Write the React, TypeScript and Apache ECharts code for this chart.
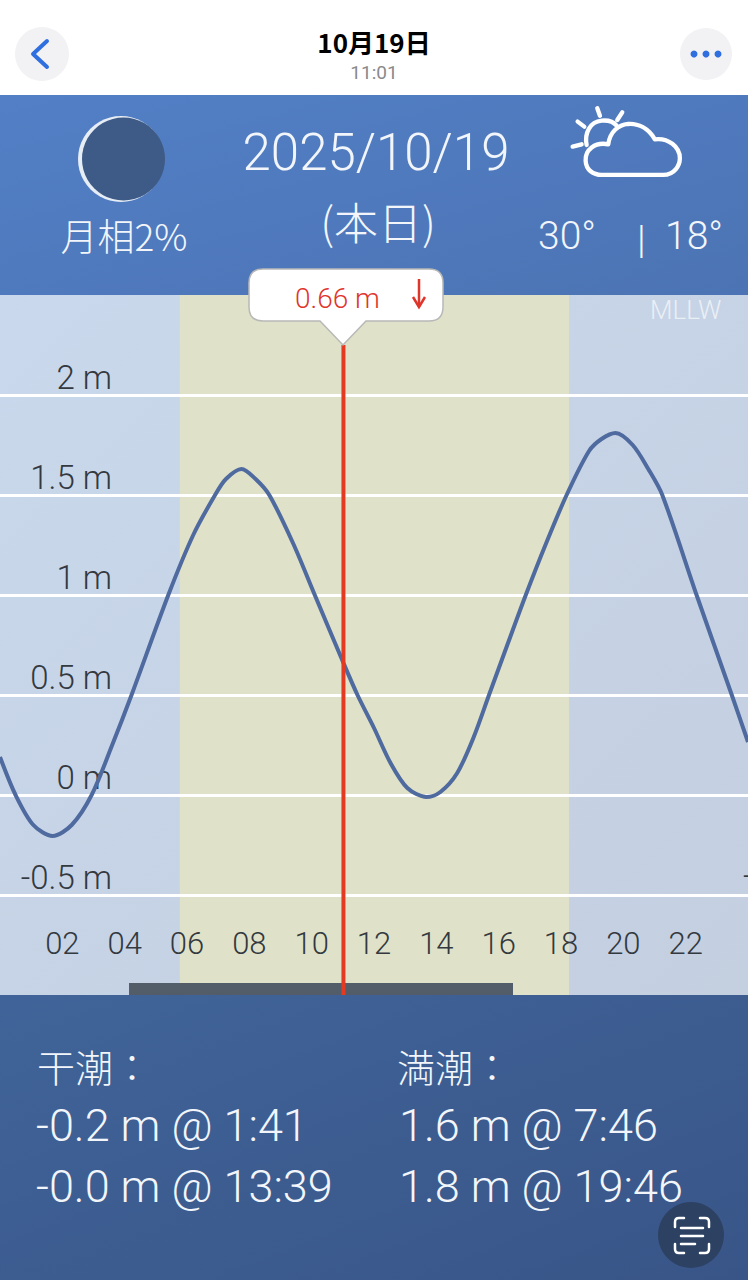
import React, { useEffect, useRef } from "react";
import * as echarts from "echarts";

const hours = [0, 0.5, 1.07, 1.69, 2.3, 2.94, 3.6, 4.22, 5.4, 6.2, 6.9, 7.25, 7.75, 8.2, 8.64, 9.4, 10.1, 11.02, 11.47, 12, 12.53, 13.07, 13.68, 14.13, 14.67, 15.2, 15.69, 16.3, 16.87, 17.5, 18.18, 18.9, 19.3, 19.75, 20.3, 20.8, 21.25, 22.35, 23.48, 24];
const tide = [0.19, 0, -0.15, -0.205, -0.15, 0, 0.25, 0.5, 1, 1.3, 1.5, 1.58, 1.63, 1.58, 1.5, 1.26, 1, 0.66, 0.5, 0.335, 0.16, 0.035, -0.01, 0.015, 0.11, 0.29, 0.5, 0.76, 1, 1.25, 1.5, 1.72, 1.78, 1.81, 1.75, 1.63, 1.5, 1, 0.5, 0.265];
const daylight = [5.77, 18.26];
const darkBar = [4.14, 16.46];
const nowHour = 11.02;
const lowTides = ["-0.2 m @ 1:41", "-0.0 m @ 13:39"];
const highTides = ["1.6 m @ 7:46", "1.8 m @ 19:46"];

const LATIN = "Roboto, 'Noto Sans CJK JP', sans-serif";
const CJK = "'Noto Sans CJK JP', Roboto, sans-serif";
const WHITE = "#f2f6fb";

echarts.graphic.registerShape("bubble", echarts.graphic.extendPath(
  "M263 269 H429 Q443 269 443 283 V307 Q443 321 429 321 H366 L343 345 L320 321 H263 Q249 321 249 307 V283 Q249 269 263 269 Z", {}));
echarts.graphic.registerShape("cloud", echarts.graphic.extendPath(
  "M185 240 H370 C405 240 420 210 420 190 C420 155 385 128 345 133 C325 100 295 85 265 87 C235 90 210 110 205 148 C165 140 135 165 137 197 C138 225 160 240 185 240 Z M140 150 C133 115 150 80 185 77 C205 75 222 82 230 92 M98 155 L125 148 M113 80 L133 95 M172 40 L180 62 M247 52 L232 75", {}));
echarts.graphic.registerShape("scan", echarts.graphic.extendPath(
  "M675 1227 V1222 Q675 1218 679 1218 H684 M700 1218 H705 Q709 1218 709 1222 V1227 M709 1244 V1249 Q709 1253 705 1253 H700 M684 1253 H679 Q675 1253 675 1249 V1244 M681 1228 H703 M681 1236 H703 M681 1244 H695", {}));

function label(text: string, x: number, y: number, size: number, extra: any = {}) {
  const { font, weight, fill, align, z } = extra;
  return {
    type: "text", x, y, z: z ?? 10,
    style: {
      text, fontSize: size, fontFamily: font ?? LATIN, fontWeight: weight ?? 300,
      fill: fill ?? WHITE, align: align ?? "left", verticalAlign: "middle",
    },
  };
}

export default function App() {
  const ref = useRef<HTMLDivElement>(null);
  useEffect(() => {
    document.body.style.margin = "0";
    document.body.style.background = "#fff";
    const chart = echarts.init(ref.current!, undefined, { renderer: "svg" });
    const lg = (a: string, b: string) => new echarts.graphic.LinearGradient(0, 0, 1, 1, [{ offset: 0, color: a }, { offset: 1, color: b }]);
    chart.setOption({
      animation: false,
      backgroundColor: "#ffffff",
      grid: {
        left: 0, right: 0, top: 295, height: 700, show: true, borderWidth: 0,
        backgroundColor: lg("#c9d8ec", "#c4cfe0"),
      },
      xAxis: {
        type: "value", min: 0, max: 24, interval: 2, z: 3,
        axisLine: { show: false }, axisTick: { show: false }, splitLine: { show: false },
        axisLabel: {
          inside: true, margin: 36, showMinLabel: false, showMaxLabel: false,
          color: "#33393f", fontSize: 31, fontFamily: LATIN, fontWeight: 300,
          formatter: (v: number) => String(v).padStart(2, "0"),
        },
      },
      yAxis: {
        type: "value", min: -1, max: 2.5, interval: 0.5, z: 1,
        axisLine: { show: false }, axisTick: { show: false },
        splitLine: { show: true, showMinLine: false, showMaxLine: false, lineStyle: { color: "#ffffff", width: 3 } },
        axisLabel: {
          inside: true, margin: 112, align: "right", verticalAlign: "bottom", padding: [0, 0, 0, 0],
          lineHeight: 36, showMinLabel: false, showMaxLabel: false,
          color: "#33393f", fontSize: 33, fontFamily: LATIN, fontWeight: 300,
          formatter: (v: number) => `${v} m`,
        },
      },
      series: [
        {
          type: "line", data: [], z: 0, silent: true,
          markArea: {
            silent: true, z: 0,
            data: [
              [{ coord: [daylight[0], -1], itemStyle: { color: "#dfe2c8", opacity: 1 } }, { coord: [daylight[1], 2.5] }],
            ],
          },
        },
        {
          type: "line", data: [], z: 2, silent: true,
          markArea: {
            silent: true, z: 2,
            data: [
              [{ coord: [darkBar[0], -1], itemStyle: { color: "#525d69", opacity: 1 } }, { coord: [darkBar[1], -0.94] }],
            ],
          },
        },
        {
          type: "line", data: hours.map((h, i) => [h, tide[i]]), smooth: 0.3, showSymbol: false, z: 3,
          lineStyle: { color: "#4f6a9f", width: 4 },
        },
        {
          type: "line", data: [[nowHour, -1], [nowHour, 2.25]], showSymbol: false, z: 4,
          lineStyle: { color: "#e43a22", width: 4 },
        },
      ],
      graphic: [
        { type: "rect", z: 1, shape: { x: 0, y: 95, width: 748, height: 200 }, style: { fill: lg("#527fc6", "#4c74b4") } },
        { type: "rect", z: 1, shape: { x: 0, y: 995, width: 748, height: 285 }, style: { fill: lg("#406499", "#395588") } },

        { type: "circle", z: 9, shape: { cx: 42, cy: 54, r: 27 }, style: { fill: "#f2f2f5" } },
        { type: "polyline", z: 10, shape: { points: [[47, 41], [33, 54], [47, 67]] }, style: { fill: "none", stroke: "#2f6fe0", lineWidth: 4, lineCap: "round", lineJoin: "round" } },
        { type: "circle", z: 9, shape: { cx: 706, cy: 54, r: 26 }, style: { fill: "#f2f2f5" } },
        { type: "circle", z: 10, shape: { cx: 694, cy: 54, r: 3.5 }, style: { fill: "#2f6fe0" } },
        { type: "circle", z: 10, shape: { cx: 706, cy: 54, r: 3.5 }, style: { fill: "#2f6fe0" } },
        { type: "circle", z: 10, shape: { cx: 718, cy: 54, r: 3.5 }, style: { fill: "#2f6fe0" } },
        label("10月19日", 374, 41, 26, { font: CJK, weight: 700, fill: "#000", align: "center" }),
        label("11:01", 374, 72, 19, { weight: 400, fill: "#8a8a8a", align: "center" }),

        { type: "circle", z: 9, shape: { cx: 121, cy: 159, r: 43 }, style: { fill: "#e6edf5" } },
        { type: "circle", z: 10, shape: { cx: 123.5, cy: 159, r: 41.5 }, style: { fill: "#3e5a86" } },
        label("月相2%", 124, 235, 37, { font: CJK, align: "center" }),
        label("2025/10/19", 376, 152, 51, { align: "center" }),
        label("(本日)", 378, 221, 44, { font: CJK, align: "center" }),
        { type: "cloud", z: 10, x: 540, y: 95, scaleX: 1 / 3, scaleY: 1 / 3, style: { fill: "none", stroke: "#ffffff", lineWidth: 13, lineCap: "round", lineJoin: "round" } },
        label("30°", 538, 236, 39),
        label("|", 637, 240, 39),
        label("18°", 665, 236, 39),

        { type: "bubble", z: 20, style: { fill: "#ffffff", stroke: "#b8b8b8", lineWidth: 1.5 } },
        label("0.66 m", 295, 298, 28, { fill: "#e0352b", z: 21 }),
        { type: "line", z: 21, shape: { x1: 419, y1: 279, x2: 419, y2: 307 }, style: { stroke: "#e0352b", lineWidth: 2.5 } },
        { type: "polyline", z: 21, shape: { points: [[413, 297], [419, 307], [425, 297]] }, style: { fill: "none", stroke: "#e0352b", lineWidth: 2.5 } },
        label("MLLW", 650, 310, 26, { fill: "rgba(255,255,255,0.65)" }),
        label("-", 743, 875, 33, { fill: "#33393f" }),

        label("干潮：", 37, 1065, 38, { font: CJK }),
        label("満潮：", 397, 1065, 38, { font: CJK }),
        label(lowTides[0], 36, 1125, 45),
        label(lowTides[1], 36, 1186, 45),
        label(highTides[0], 399, 1125, 45),
        label(highTides[1], 399, 1186, 45),

        { type: "circle", z: 20, shape: { cx: 691, cy: 1235, r: 33 }, style: { fill: "#2d4263" } },
        { type: "scan", z: 21, style: { fill: "none", stroke: "#ffffff", lineWidth: 2.5, lineCap: "round" } },
      ],
    });
    return () => chart.dispose();
  }, []);
  return <div ref={ref} style={{ width: 748, height: 1280 }} />;
}
